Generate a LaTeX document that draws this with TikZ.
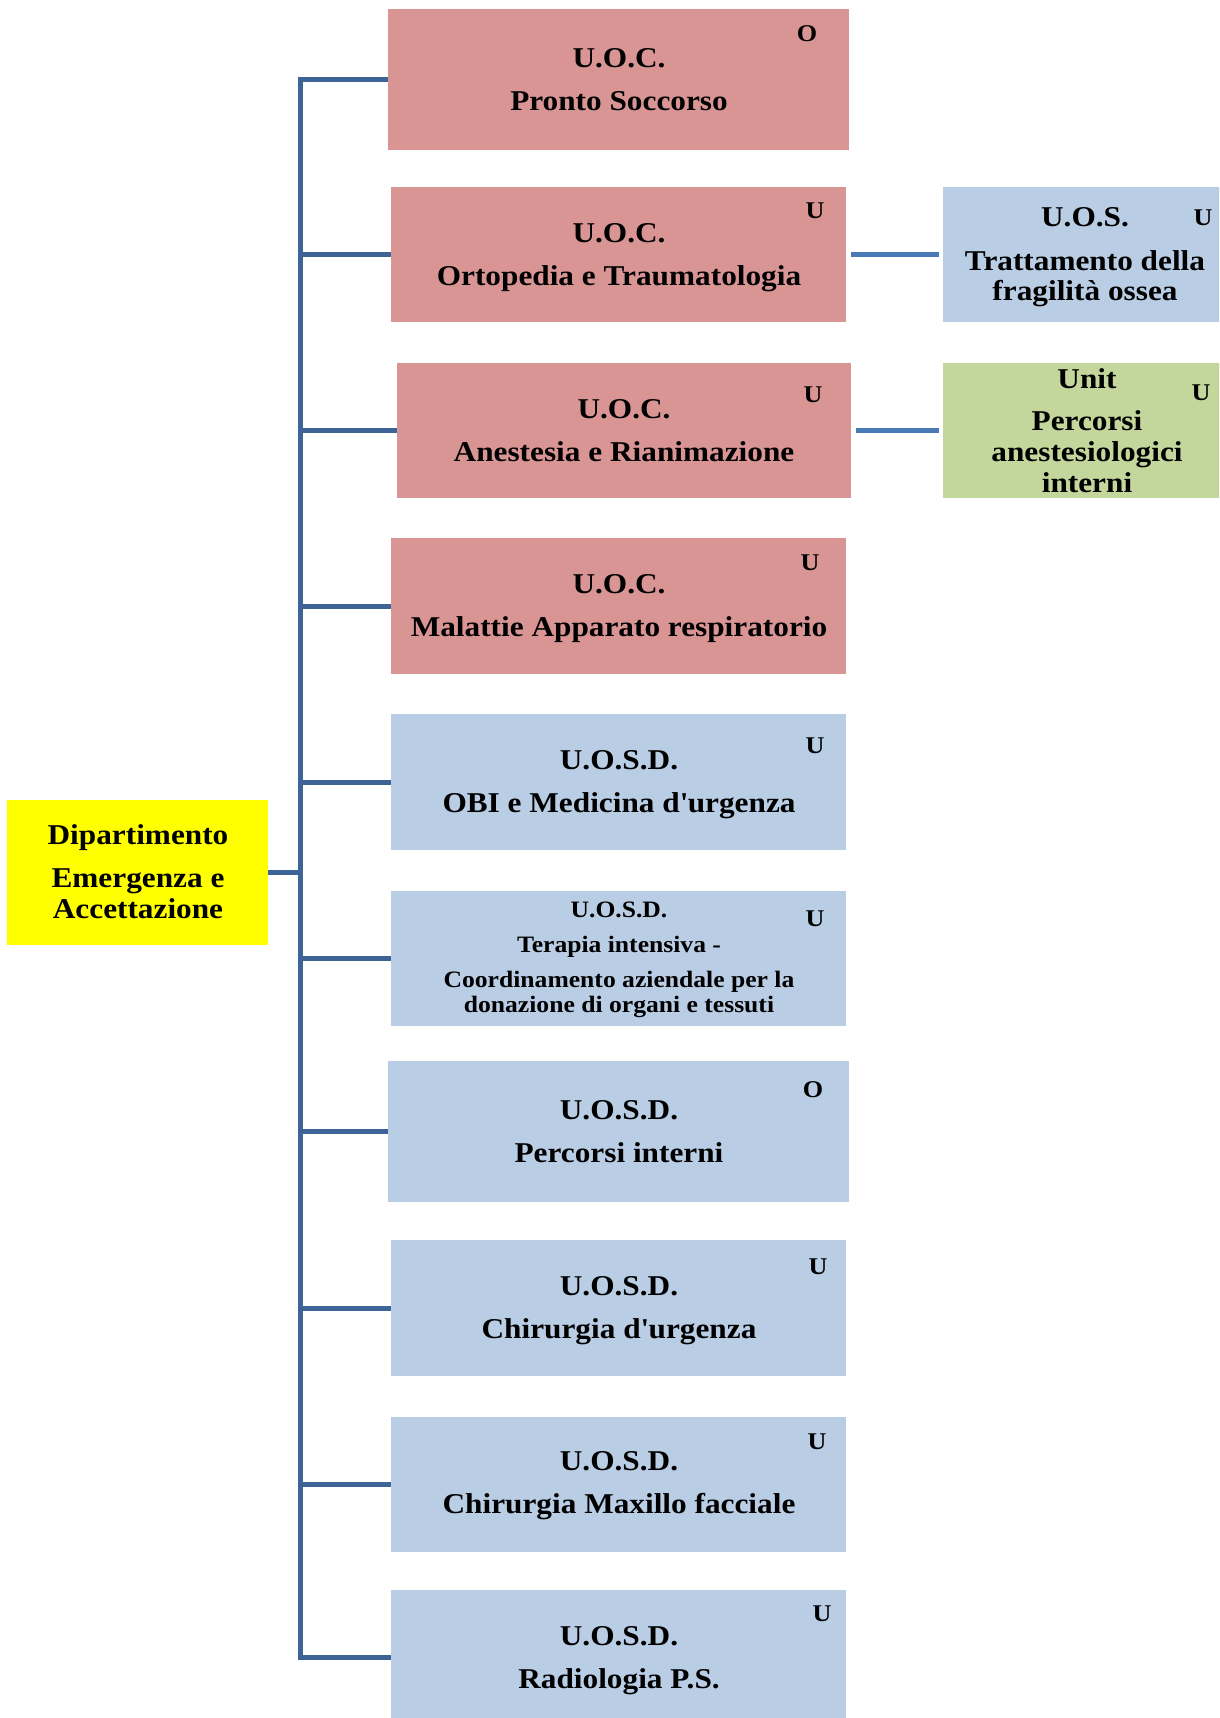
\documentclass[tikz,border=0pt]{standalone}
\usepackage{fontspec}
\setmainfont{Liberation Serif}[FakeStretch=1.09]
\definecolor{pinkbox}{HTML}{D99594}
\definecolor{bluebox}{HTML}{B9CDE5}
\definecolor{greenbox}{HTML}{C3D69B}
\definecolor{yelbox}{HTML}{FFFF00}
\definecolor{trunkcol}{HTML}{3E6497}
\definecolor{sidecol}{HTML}{4A7AB5}
\tikzset{
  unit/.style={inner sep=0pt, outer sep=0pt},
  box/.style={unit, align=center, font=\bfseries\fontsize{28.7}{43}\selectfont},
  tag/.style={unit, font=\bfseries\fontsize{24}{26}\selectfont},
  conn/.style={draw=trunkcol, line width=5pt},
  sideconn/.style={draw=sidecol, line width=5pt, shorten <=5pt, shorten >=4pt}
}
\newcommand{\boxat}[6]{% name, x1, x2, y1, y2, colour
  \fill[#6] (#2,#4) rectangle (#3,#5);
  \coordinate (#1-c) at ({(#2+#3)/2},{(#4+#5)/2});
  \coordinate (#1-w) at (#2,{(#4+#5)/2});
  \coordinate (#1-e) at (#3,{(#4+#5)/2});
}
\begin{document}
\begin{tikzpicture}[x=1pt,y=-1pt]
\useasboundingbox (0,0) rectangle (1219,1718);
\clip (0,0) rectangle (1219,1718);

% boxes
\boxat{b1}{388}{849}{9}{150}{pinkbox}
\boxat{b2}{391}{846}{187}{322}{pinkbox}
\boxat{b3}{397}{851}{363}{498}{pinkbox}
\boxat{b4}{391}{846}{538}{674}{pinkbox}
\boxat{b5}{391}{846}{714}{850}{bluebox}
\boxat{b6}{391}{846}{891}{1026}{bluebox}
\boxat{b7}{388}{849}{1061}{1202}{bluebox}
\boxat{b8}{391}{846}{1240}{1376}{bluebox}
\boxat{b9}{391}{846}{1417}{1552}{bluebox}
\boxat{b10}{391}{846}{1590}{1725}{bluebox}
\boxat{yel}{7}{268}{800}{945}{yelbox}
\boxat{uos}{943}{1227}{187}{322}{bluebox}
\boxat{un}{943}{1227}{363}{498}{greenbox}

% texts
\node[box] (t1) at (619,80) {U.O.C.\\Pronto Soccorso};
\node[box] (t2) at (619,258) {U.O.C.\\Ortopedia e Traumatologia};
\node[box] (t3) at (624,431) {U.O.C.\\Anestesia e Rianimazione};
\node[box] (t4) at (619,609) {U.O.C.\\Malattie Apparato respiratorio};
\node[box] (t5) at (619,785) {U.O.S.D.\\OBI e Medicina d\textquotesingle urgenza};
\node[box, font=\bfseries\fontsize{23.5}{25}\selectfont] (t6) at (619,960)
  {U.O.S.D.\\[10pt]Terapia intensiva -\\[10pt]Coordinamento aziendale per la\\donazione di organi e tessuti};
\node[box] (t7) at (619,1132) {U.O.S.D.\\Percorsi interni};
\node[box] (t8) at (619,1311) {U.O.S.D.\\Chirurgia d\textquotesingle urgenza};
\node[box] (t9) at (619,1486) {U.O.S.D.\\Chirurgia Maxillo facciale};
\node[box] (t10) at (619,1661) {U.O.S.D.\\Radiologia P.S.};
\node[box, font=\bfseries\fontsize{28.7}{31}\selectfont] (ty) at (138,872)
  {Dipartimento\\[12pt]Emergenza e\\Accettazione};
\node[box, font=\bfseries\fontsize{28.7}{30}\selectfont] (tu) at (1085,257)
  {U.O.S.\\[14pt]Trattamento della\\fragilità ossea};
\node[box, font=\bfseries\fontsize{28.7}{31}\selectfont] (tn) at (1087,431)
  {Unit\\[11pt]Percorsi\\anestesiologici\\interni};

% tags
\node[tag] (g1) at (807,34) {O};
\node[tag] (g2) at (815,211) {U};
\node[tag] (g3) at (813,395) {U};
\node[tag] (g4) at (810,563) {U};
\node[tag] (g5) at (815,746) {U};
\node[tag] (g6) at (815,919) {U};
\node[tag] (g7) at (813,1090) {O};
\node[tag] (g8) at (818,1267) {U};
\node[tag] (g9) at (817,1442) {U};
\node[tag] (g10) at (822,1614) {U};
\node[tag] (gu) at (1203,218) {U};
\node[tag] (gn) at (1201,393) {U};

% connectors
\coordinate (tk) at (300.5,0);
\draw[conn, line join=miter] (b1-w) -| (b10-w -| tk) -- (b10-w);
\foreach \b in {b2,b3,b4,b5,b6,b7,b8,b9}
  \draw[conn] (\b-w -| tk) -- (\b-w);
\draw[conn] (yel-e) -- (yel-e -| tk);
\draw[sideconn] (b2-e) -- (uos-w);
\draw[sideconn] (b3-e) -- (un-w);
\end{tikzpicture}
\end{document}
